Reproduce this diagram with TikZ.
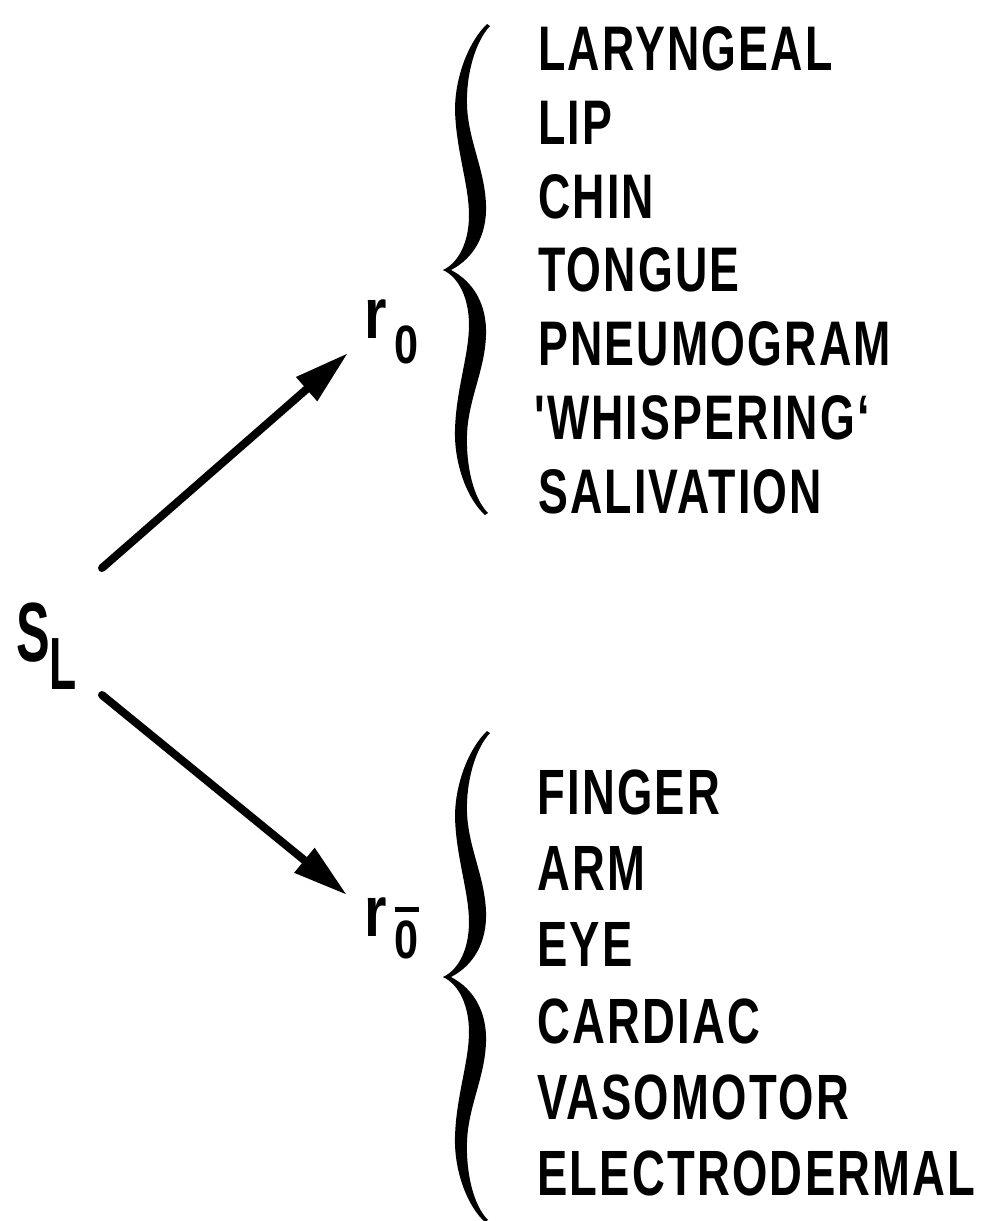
\documentclass[tikz,border=0pt]{standalone}
\usepackage{fontspec}
\usetikzlibrary{arrows.meta}
\newfontfamily\lstfont[FakeStretch=0.71,LetterSpace=3.5]{Liberation Sans}
\newfontfamily\slfont[FakeStretch=0.6]{Liberation Sans}
\newfontfamily\rfont[FakeStretch=0.8]{Liberation Sans}
\tikzset{
  topitem/.style={anchor=base west, inner sep=0pt, font={\lstfont\bfseries\fontsize{63}{63}\selectfont}},
  botitem/.style={anchor=base west, inner sep=0pt, font={\lstfont\bfseries\fontsize{64}{64}\selectfont}},
  lbl/.style={anchor=base west, inner sep=0pt},
  arr/.style={line width=8pt, line cap=round, -{Triangle[length=55pt,width=30pt]}},
  bracefill/.style={fill=black}
}
\begin{document}
\begin{tikzpicture}[x=1pt,y=-1pt]
\path[use as bounding box, fill=white] (0,0) rectangle (996,1221);

% braces (top one, then the same shifted down)
\foreach \dy in {0,707}{
\begin{scope}[shift={(0,\dy)}]
  \fill[bracefill] (487,24) .. controls (470,40) and (455,75) .. (455,110)
      .. controls (456,150) and (469,185) .. (469,215)
      .. controls (469,240) and (460,262) .. (443,270)
      -- (451,270) .. controls (474,258) and (487,235) .. (486,205)
      .. controls (485,170) and (468,140) .. (467,105)
      .. controls (466,75) and (475,42) .. (490,26) -- cycle;
  \fill[bracefill] (485,515) .. controls (468,500) and (454,465) .. (455,430)
      .. controls (456,390) and (469,355) .. (469,325)
      .. controls (469,300) and (460,278) .. (443,270)
      -- (451,270) .. controls (474,282) and (487,305) .. (486,335)
      .. controls (485,370) and (468,400) .. (467,435)
      .. controls (466,465) and (473,498) .. (488,513) -- cycle;
\end{scope}
}

% S_L and r labels
\node[lbl] (SL) at (16,661) {\slfont\bfseries\fontsize{84}{84}\selectfont S\raisebox{-28pt}{\fontsize{74}{74}\selectfont L}};
\node[lbl] (r0) at (364,338) {\rfont\bfseries\fontsize{72}{72}\selectfont r\hspace{8pt}\raisebox{-25pt}{\fontsize{54}{54}\selectfont 0}};
\node[lbl] (r0b) at (364,936) {\rfont\bfseries\fontsize{72}{72}\selectfont r\hspace{8pt}\raisebox{-22pt}{\fontsize{54}{54}\selectfont\rlap{\rule[46pt]{24pt}{5pt}}0}};

% arrows
\draw[arr] ([shift={(86,-93)}]SL.base west) -- ([shift={(-16,15)}]r0.base west);
\draw[arr] ([shift={(86,34)}]SL.base west) -- ([shift={(-17,-41)}]r0b.base west);

% top list
\node[topitem] (t1) at (538,70)  {LARYNGEAL};
\node[topitem] (t2) at (538,144) {LIP};
\node[topitem] (t3) at (538,218) {CHIN};
\node[topitem] (t4) at (538,291) {TONGUE};
\node[topitem] (t5) at (538,365) {PNEUMOGRAM};
\node[topitem] (t6) at (534,439) {{\char"27}WHISPERING‘};
\node[topitem] (t7) at (538,513) {SALIVATION};

% bottom list
\node[botitem] (b1) at (537,814)  {FINGER};
\node[botitem] (b2) at (537,890)  {ARM};
\node[botitem] (b3) at (537,966)  {EYE};
\node[botitem] (b4) at (537,1043) {CARDIAC};
\node[botitem] (b5) at (537,1119) {VASOMOTOR};
\node[botitem] (b6) at (537,1195) {ELECTRODERMAL};
\end{tikzpicture}
\end{document}
